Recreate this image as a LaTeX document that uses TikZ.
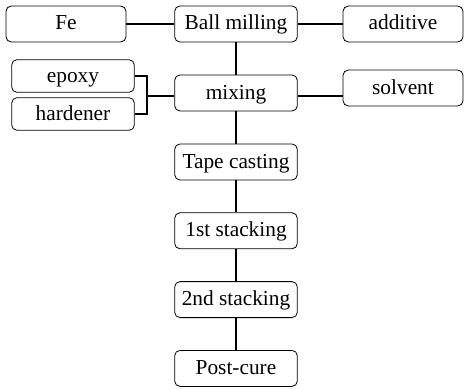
\documentclass[tikz,border=0pt]{standalone}
\usepackage{fontspec}
\setmainfont{Liberation Serif}
\usepackage{tikz}
\usetikzlibrary{positioning}
\usetikzlibrary{calc}
\tikzset{
  flownode/.style = {align=center, inner sep=0pt, text centered,
    font=\fontsize{16}{19}\selectfont, text height=12pt, text depth=3pt},
  prc_b/.style = {flownode, rectangle, rounded corners=4pt, draw=black,
    line width=0.6pt, minimum width=92pt, minimum height=27pt},% process box
  mat_b/.style = {prc_b, minimum width=90pt},% material box
  sub_b/.style = {prc_b, minimum width=92pt, minimum height=24.5pt},% epoxy, hardener
  link/.style = {line width=0.8pt}
}
\begin{document}
\begin{tikzpicture}[x=0.75pt,y=-0.75pt]
\useasboundingbox (0,0) rectangle (465,389);
% main line
\node [prc_b] (ball) at (236,24) {Ball milling};
\node [prc_b] (mix) at (236,93) {mixing};
\node [prc_b] (tape) at (236,162) {Tape casting};
\node [prc_b, below=24pt of tape] (st1) {1st stacking};
\node [prc_b, below=24pt of st1] (st2) {2nd stacking};
\node [prc_b, below=24pt of st2] (cure) {Post-cure};
% materials
\node [mat_b] (fe) at (66,24) {Fe};
\node [mat_b] (add) at (403,24) {additive};
\node [mat_b] (solv) at (403,88) {solvent};
\node [sub_b] (epoxy) at (73,76) {epoxy};
\node [sub_b] (hard) at (73,114) {hardener};
\coordinate (brk) at (147,96);

\draw [link] (fe) -- (ball) -- (add);
\draw [link] (ball) -- (mix) -- (tape) -- (st1) -- (st2) -- (cure);
\draw [link] (mix.east |- 0,96) -- (solv.west |- 0,96);
\draw [link] (epoxy.east) -| (brk) |- (hard.east);
\draw [link] (brk) -- (mix.west |- brk);
\end{tikzpicture}
\end{document}
